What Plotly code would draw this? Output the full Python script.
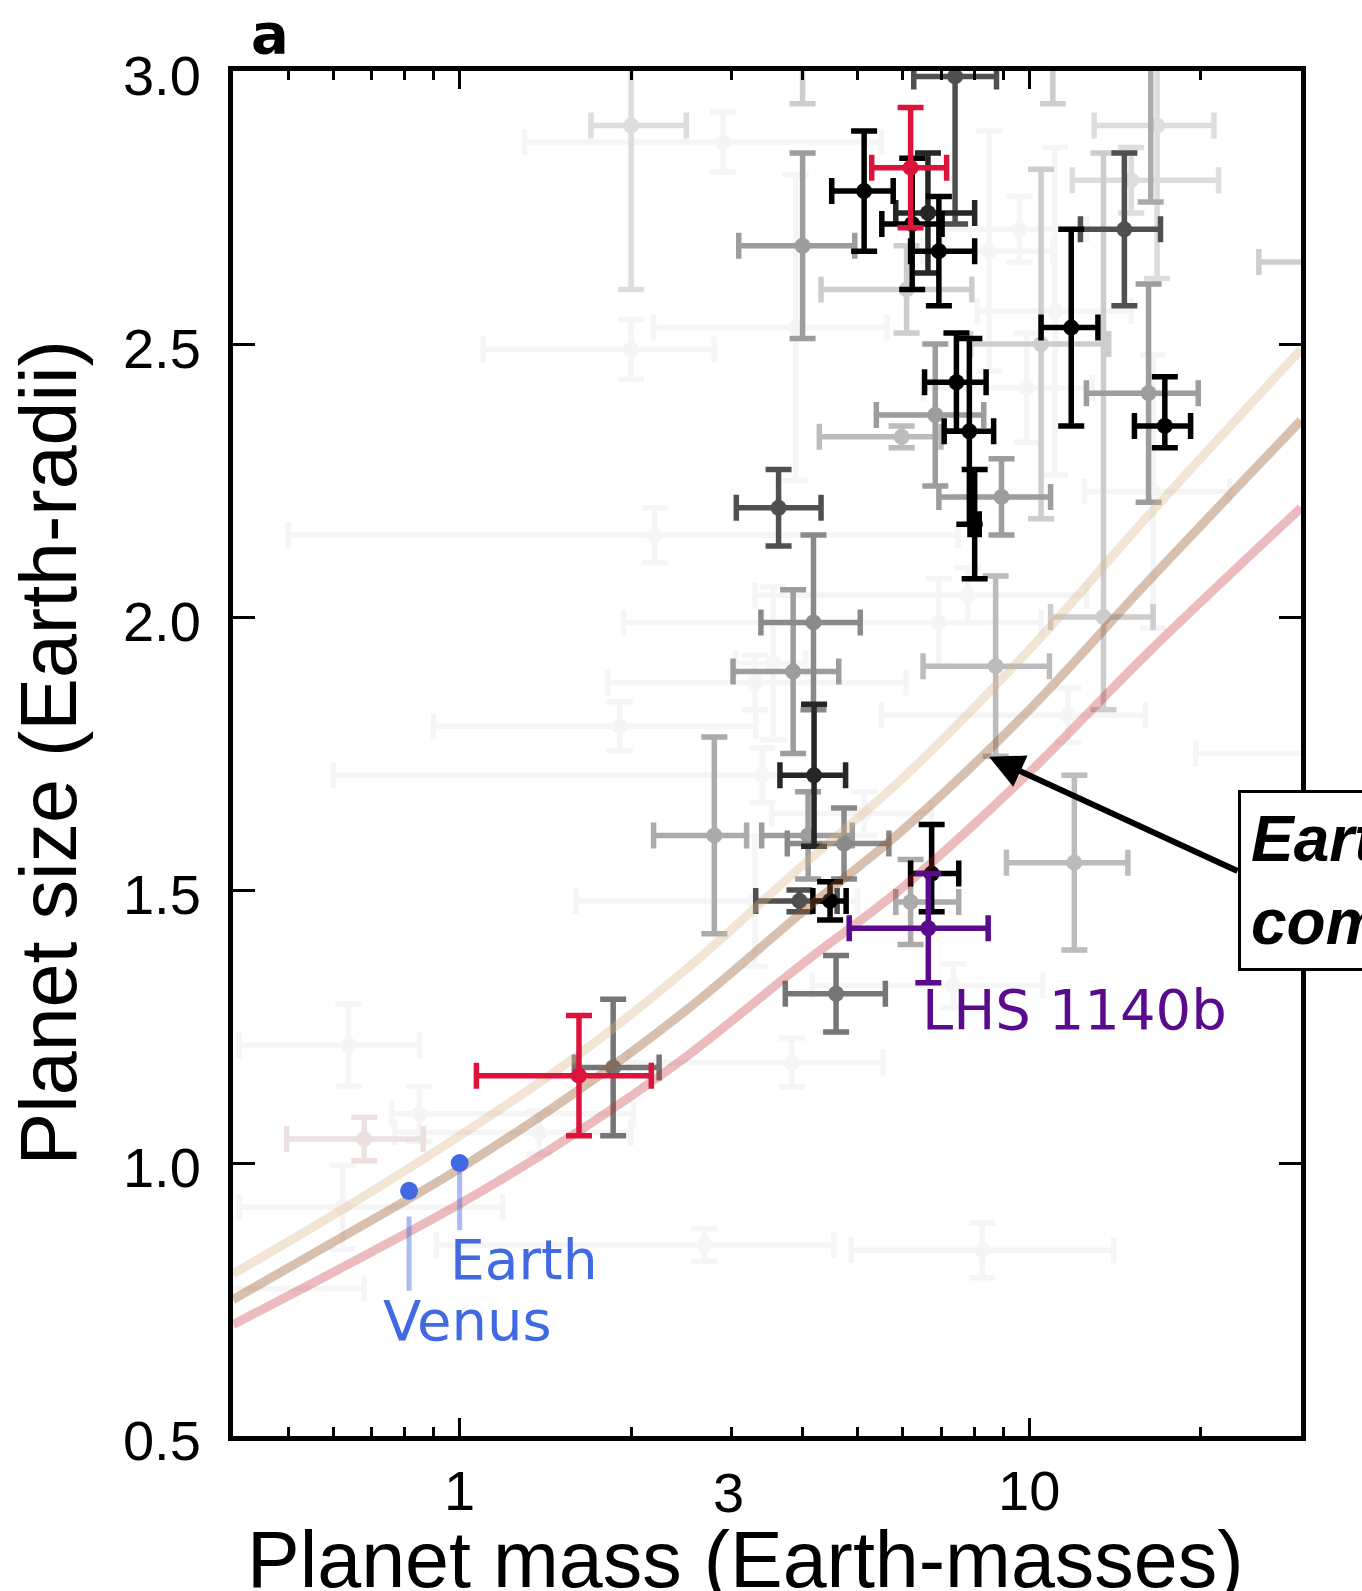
import math
import plotly.graph_objects as go

# Planet samples: (mass, mass_err_minus, mass_err_plus, radius, radius_err_minus, radius_err_plus)
# Grouped by the shade used to draw them (darker = better-measured).
planets_black = [
    (5.13, 0.63, 0.64, 2.78, 0.11, 0.11),
    (6.23, 0.72, 0.80, 2.72, 0.12, 0.12),
    (6.94, 0.75, 1.08, 2.67, 0.10, 0.10),
    (7.45, 0.90, 0.95, 2.43, 0.09, 0.09),
    (7.85, 0.76, 0.81, 2.34, 0.17, 0.17),
    (8.02, 0.15, 0.15, 2.17, 0.10, 0.10),
    (11.85, 1.36, 1.35, 2.53, 0.18, 0.18),
    (17.3, 2.00, 1.90, 2.35, 0.04, 0.09),
    (4.47, 0.30, 0.30, 1.48, 0.035, 0.035),
    (6.74, 0.55, 0.78, 1.53, 0.07, 0.09),
]
planets_charcoal = [
    (4.19, 0.54, 0.57, 1.71, 0.13, 0.13),
    (6.64, 0.81, 1.38, 2.74, 0.11, 0.11),
]
planets_dark = [
    (7.41, 1.14, 1.35, 2.99, 0.27, 0.27),
    (14.69, 2.39, 2.31, 2.71, 0.14, 0.14),
    (3.63, 0.57, 0.68, 2.20, 0.07, 0.07),
    (3.95, 0.64, 0.65, 1.48, 0.02, 0.02),
]
planets_dim = [
    (4.58, 0.85, 1.01, 1.31, 0.07, 0.07),
    (1.86, 0.27, 0.38, 1.175, 0.125, 0.125),
]
planets_mid = [
    (4.18, 0.80, 0.87, 1.99, 0.16, 0.16),
    (4.73, 0.97, 0.94, 1.585, 0.065, 0.065),
]
planets_gray = [
    (6.84, 1.45, 1.48, 2.37, 0.13, 0.13),
    (8.94, 2.00, 1.96, 2.22, 0.07, 0.07),
    (3.85, 0.83, 0.78, 1.90, 0.15, 0.15),
    (4.00, 0.91, 0.94, 2.68, 0.17, 0.17),
    (16.2, 3.60, 3.60, 2.41, 0.20, 0.20),
    (4.09, 0.70, 0.80, 1.60, 0.08, 0.08),
]
planets_silver = [
    (2.80, 0.61, 0.39, 1.60, 0.18, 0.18),
    (6.19, 0.36, 1.33, 1.478, 0.078, 0.078),
    (16.34, 4.00, 4.00, 3.12, 0.36, 0.36),
]
planets_light = [
    (8.73, 2.22, 2.12, 1.91, 0.165, 0.165),
    (12.0, 2.88, 2.90, 1.55, 0.16, 0.16),
    (5.97, 1.69, 1.03, 2.33, 0.02, 0.02),
]
planets_pale = [
    (6.09, 1.78, 1.84, 2.60, 0.08, 0.08),
    (13.5, 2.60, 3.00, 2.00, 0.17, 0.85),
    (10.49, 2.60, 3.30, 2.50, 0.32, 0.32),
    (4.00, 0.60, 0.60, 3.08, 0.14, 0.14),
    (11.0, 1.50, 1.50, 3.08, 0.14, 0.14),
    (35.0, 9.70, 10.0, 2.65, 0.05, 0.05),
]
planets_ghost = [
    (16.77, 3.77, 4.33, 2.90, 0.28, 0.28),
    (2.00, 0.30, 0.50, 2.90, 0.30, 0.30),
    (15.1, 3.20, 6.40, 2.80, 0.06, 0.06),
]
planets_faint = [
    (2.90, 1.60, 2.60, 2.87, 0.055, 0.055),
    (2.00, 0.90, 0.80, 2.49, 0.055, 0.055),
    (3.89, 1.70, 1.74, 2.53, 0.28, 0.28),
    (8.50, 2.00, 2.50, 2.67, 0.22, 0.22),
    (9.61, 2.50, 3.00, 2.71, 0.06, 0.06),
    (11.1, 3.00, 4.00, 2.56, 0.30, 0.30),
    (9.90, 3.40, 3.00, 2.42, 0.10, 0.10),
    (16.5, 4.00, 6.00, 2.23, 0.25, 0.25),
    (2.20, 1.70, 5.30, 2.15, 0.05, 0.05),
    (1.91, 1.01, 1.40, 1.80, 0.045, 0.045),
    (6.94, 5.00, 3.56, 1.99, 0.08, 0.08),
    (3.40, 2.80, 1.30, 1.71, 0.05, 0.05),
    (11.7, 6.20, 4.30, 1.82, 0.05, 0.05),
    (3.30, 1.70, 1.70, 1.48, 0.12, 0.12),
    (0.638, 0.228, 0.212, 1.216, 0.075, 0.075),
    (0.85, 0.09, 1.17, 1.09, 0.05, 0.05),
    (3.83, 1.85, 1.71, 1.184, 0.045, 0.045),
    (1.38, 0.61, 0.62, 1.056, 0.04, 0.04),
    (2.69, 1.78, 1.85, 0.85, 0.03, 0.03),
    (0.623, 0.213, 0.567, 0.919, 0.077, 0.077),
    (0.36, 0.00, 0.32, 0.77, 0.00, 0.00),
    (8.27, 3.40, 5.80, 0.84, 0.05, 0.05),
    (36.0, 16.4, 0.00, 1.75, 0.00, 0.00),
    (7.36, 3.20, 3.20, 1.325, 0.04, 0.04),
    (7.80, 4.50, 4.80, 2.04, 0.05, 0.05),
    (5.13, 1.60, 1.60, 1.64, 0.04, 0.04),
    (3.30, 1.48, 2.78, 1.88, 0.05, 0.05),
    (3.55, 0.50, 0.50, 1.915, 0.14, 0.14),
]
planets_rose = [
    (0.68, 0.183, 0.183, 1.044, 0.04, 0.04),
]
planets_red = [
    (6.19, 0.90, 0.97, 2.823, 0.11, 0.11),
    (1.62, 0.55, 0.55, 1.16, 0.11, 0.11),
]
lhs1140b = [(6.65, 1.82, 1.82, 1.43, 0.10, 0.10)]

# Solar-system reference planets
solar_names = ["Venus", "Earth"]
solar_mass = [0.815, 1.0]
solar_radius = [0.949, 1.0]
# radius span of the short leader line under each dot
solar_leader_top = [0.902, 0.984]
solar_leader_bottom = [0.766, 0.877]

# Earth-like composition mass-radius relations
curve_mass = [0.4, 0.6, 1.0, 1.6, 2.5, 4.0, 6.0, 10.0, 16.0, 30.0]
curve_radius_upper = [0.797, 0.905, 1.05, 1.195, 1.355, 1.545, 1.705, 1.94, 2.18, 2.49]
curve_radius_middle = [0.75, 0.855, 0.99, 1.13, 1.28, 1.46, 1.61, 1.83, 2.06, 2.36]
curve_radius_lower = [0.704, 0.80, 0.925, 1.055, 1.195, 1.365, 1.505, 1.715, 1.93, 2.20]

x_major_ticks = [1, 10]
x_major_labels = ["1", "10"]
x_extra_label = (3, "3")
x_minor_ticks = [0.5, 0.6, 0.7, 0.8, 0.9, 2, 3, 4, 5, 6, 7, 8, 9, 20]
y_ticks = [0.5, 1.0, 1.5, 2.0, 2.5, 3.0]
y_labels = ["0.5", "1.0", "1.5", "2.0", "2.5", "3.0"]

# ---- layout geometry (pixels) ----
W, H = 1362, 1591
PL, PR, PT, PB = 233, 1301, 71, 1436


def paper_x(px):
    return (px - PL) / (PR - PL)


def paper_y(py):
    return (PB - py) / (PB - PT)


def radius_at(py):
    return 3.0 - (py - PT) / (PB - PT) * 2.5


SANS = "Liberation Sans, Arial, Helvetica, sans-serif"
LABEL_FONT = "DejaVu Sans, Verdana, sans-serif"

fig = go.Figure()


def add_planets(points, color, size=16, thick=5.5, cap=13):
    fig.add_trace(go.Scatter(
        x=[p[0] for p in points],
        y=[p[3] for p in points],
        mode="markers",
        marker=dict(color=color, size=size, line=dict(width=0)),
        error_x=dict(type="data", symmetric=False,
                     arrayminus=[p[1] for p in points],
                     array=[p[2] for p in points],
                     color=color, thickness=thick, width=cap),
        error_y=dict(type="data", symmetric=False,
                     arrayminus=[p[4] for p in points],
                     array=[p[5] for p in points],
                     color=color, thickness=thick, width=cap),
        hoverinfo="skip", showlegend=False,
    ))


# background sample, lightest first
add_planets(planets_faint, "#f5f5f5")
add_planets(planets_rose, "#ede0e0")
add_planets(planets_ghost, "#dddddd")
add_planets(planets_pale, "#cdcdcd")
add_planets(planets_light, "#bcbcbc")
add_planets(planets_silver, "#ababab")
add_planets(planets_gray, "#9d9d9d")
add_planets(planets_mid, "#8a8a8a")
add_planets(planets_dim, "#767676")
add_planets(planets_dark, "#505050")
add_planets(planets_charcoal, "#262626")
add_planets(planets_black, "#000000")

# composition curves on top of the sample
for radii, col in [
    (curve_radius_upper, "rgba(222,184,135,0.36)"),
    (curve_radius_middle, "rgba(150,90,40,0.38)"),
    (curve_radius_lower, "rgba(190,30,40,0.30)"),
]:
    fig.add_trace(go.Scatter(
        x=curve_mass, y=radii, mode="lines",
        line=dict(color=col, width=9, shape="spline", smoothing=1.0),
        hoverinfo="skip", showlegend=False,
    ))

add_planets(planets_red, "#dc143c")
PURPLE = "#5a0a8c"
add_planets(lhs1140b, PURPLE)

BLUE = "#4169e1"
for m, top, bot in zip(solar_mass, solar_leader_top, solar_leader_bottom):
    fig.add_trace(go.Scatter(
        x=[m, m], y=[top, bot], mode="lines",
        line=dict(color="rgba(65,105,225,0.45)", width=5),
        hoverinfo="skip", showlegend=False,
    ))
fig.add_trace(go.Scatter(
    x=solar_mass, y=solar_radius, mode="markers",
    marker=dict(color=BLUE, size=18, line=dict(width=0)),
    hoverinfo="skip", showlegend=False,
))

annotations = [
    # panel letter
    dict(text="<b>a</b>", xref="paper", yref="paper",
         x=paper_x(249), y=paper_y(33), xanchor="left", yanchor="middle",
         showarrow=False, font=dict(family="DejaVu Sans", size=56, color="black")),
    # axis titles
    dict(text="Planet mass (Earth-masses)", xref="paper", yref="paper",
         x=paper_x(745), y=paper_y(1560), xanchor="center", yanchor="middle",
         showarrow=False, font=dict(family=SANS, size=79, color="black")),
    dict(text="Planet size (Earth-radii)", xref="paper", yref="paper",
         x=paper_x(48), y=0.5, xanchor="center", yanchor="middle", textangle=-90,
         showarrow=False, font=dict(family=SANS, size=79, color="black")),
    # tick label at 3
    dict(text=x_extra_label[1], xref="x", yref="paper",
         x=math.log10(x_extra_label[0]), y=paper_y(1492), xanchor="center",
         yanchor="middle", showarrow=False, xshift=-3,
         font=dict(family=SANS, size=56, color="black")),
    # planet names
    dict(text=solar_names[1], xref="x", yref="y",
         x=math.log10(solar_mass[1]), y=radius_at(1260), xshift=-12,
         xanchor="left", yanchor="middle", showarrow=False,
         font=dict(family=LABEL_FONT, size=55, color=BLUE)),
    dict(text=solar_names[0], xref="x", yref="y",
         x=math.log10(solar_mass[0]), y=radius_at(1320), xshift=-28,
         xanchor="left", yanchor="middle", showarrow=False,
         font=dict(family=LABEL_FONT, size=56, color=BLUE)),
    dict(text="LHS 1140b", xref="x", yref="y",
         x=math.log10(lhs1140b[0][0]), y=radius_at(1009), xshift=-8,
         xanchor="left", yanchor="middle", showarrow=False,
         font=dict(family=LABEL_FONT, size=56, color=PURPLE)),
    # callout box
    dict(text="<b><i>Earth-like</i></b><br><b><i>composition</i></b>",
         xref="paper", yref="paper", x=paper_x(1238), y=paper_y(790),
         xanchor="left", yanchor="top", align="left", showarrow=False,
         bgcolor="white", bordercolor="black", borderwidth=3, borderpad=10,
         font=dict(family=SANS, size=64, color="black")),
    # arrow pointing at the composition curves
    dict(text="", xref="x", yref="y", x=math.log10(8.5), y=1.744,
         ax=250, ay=115, axref="pixel", ayref="pixel",
         showarrow=True, arrowhead=2, arrowsize=1.15, arrowwidth=6,
         arrowcolor="black", standoff=0, startstandoff=0),
]

fig.update_layout(
    width=W, height=H, template="none",
    margin=dict(l=PL, r=W - PR, t=PT, b=H - PB, pad=0),
    paper_bgcolor="white", plot_bgcolor="white",
    showlegend=False,
    font=dict(family=SANS, color="black"),
    xaxis=dict(
        type="log", range=[math.log10(0.4), math.log10(30)],
        showgrid=False, zeroline=False, automargin=False,
        showline=True, linecolor="black", linewidth=5, mirror="ticks",
        ticks="inside", ticklen=18, tickwidth=3, tickcolor="black",
        tickmode="array", tickvals=x_major_ticks, ticktext=x_major_labels,
        tickfont=dict(family=SANS, size=56, color="black"),
        ticklabelstandoff=2,
        minor=dict(ticks="inside", ticklen=9, tickwidth=3, tickcolor="black",
                   tickmode="array", tickvals=x_minor_ticks, showgrid=False),
    ),
    yaxis=dict(
        range=[0.5, 3.0], showgrid=False, zeroline=False, automargin=False,
        showline=True, linecolor="black", linewidth=5, mirror="ticks",
        ticks="inside", ticklen=22, tickwidth=3, tickcolor="black",
        tickmode="array", tickvals=y_ticks, ticktext=y_labels,
        tickfont=dict(family=SANS, size=56, color="black"),
        ticklabelstandoff=16, ticklabelshift=4,
    ),
    annotations=annotations,
)

fig.write_html("out.html")
